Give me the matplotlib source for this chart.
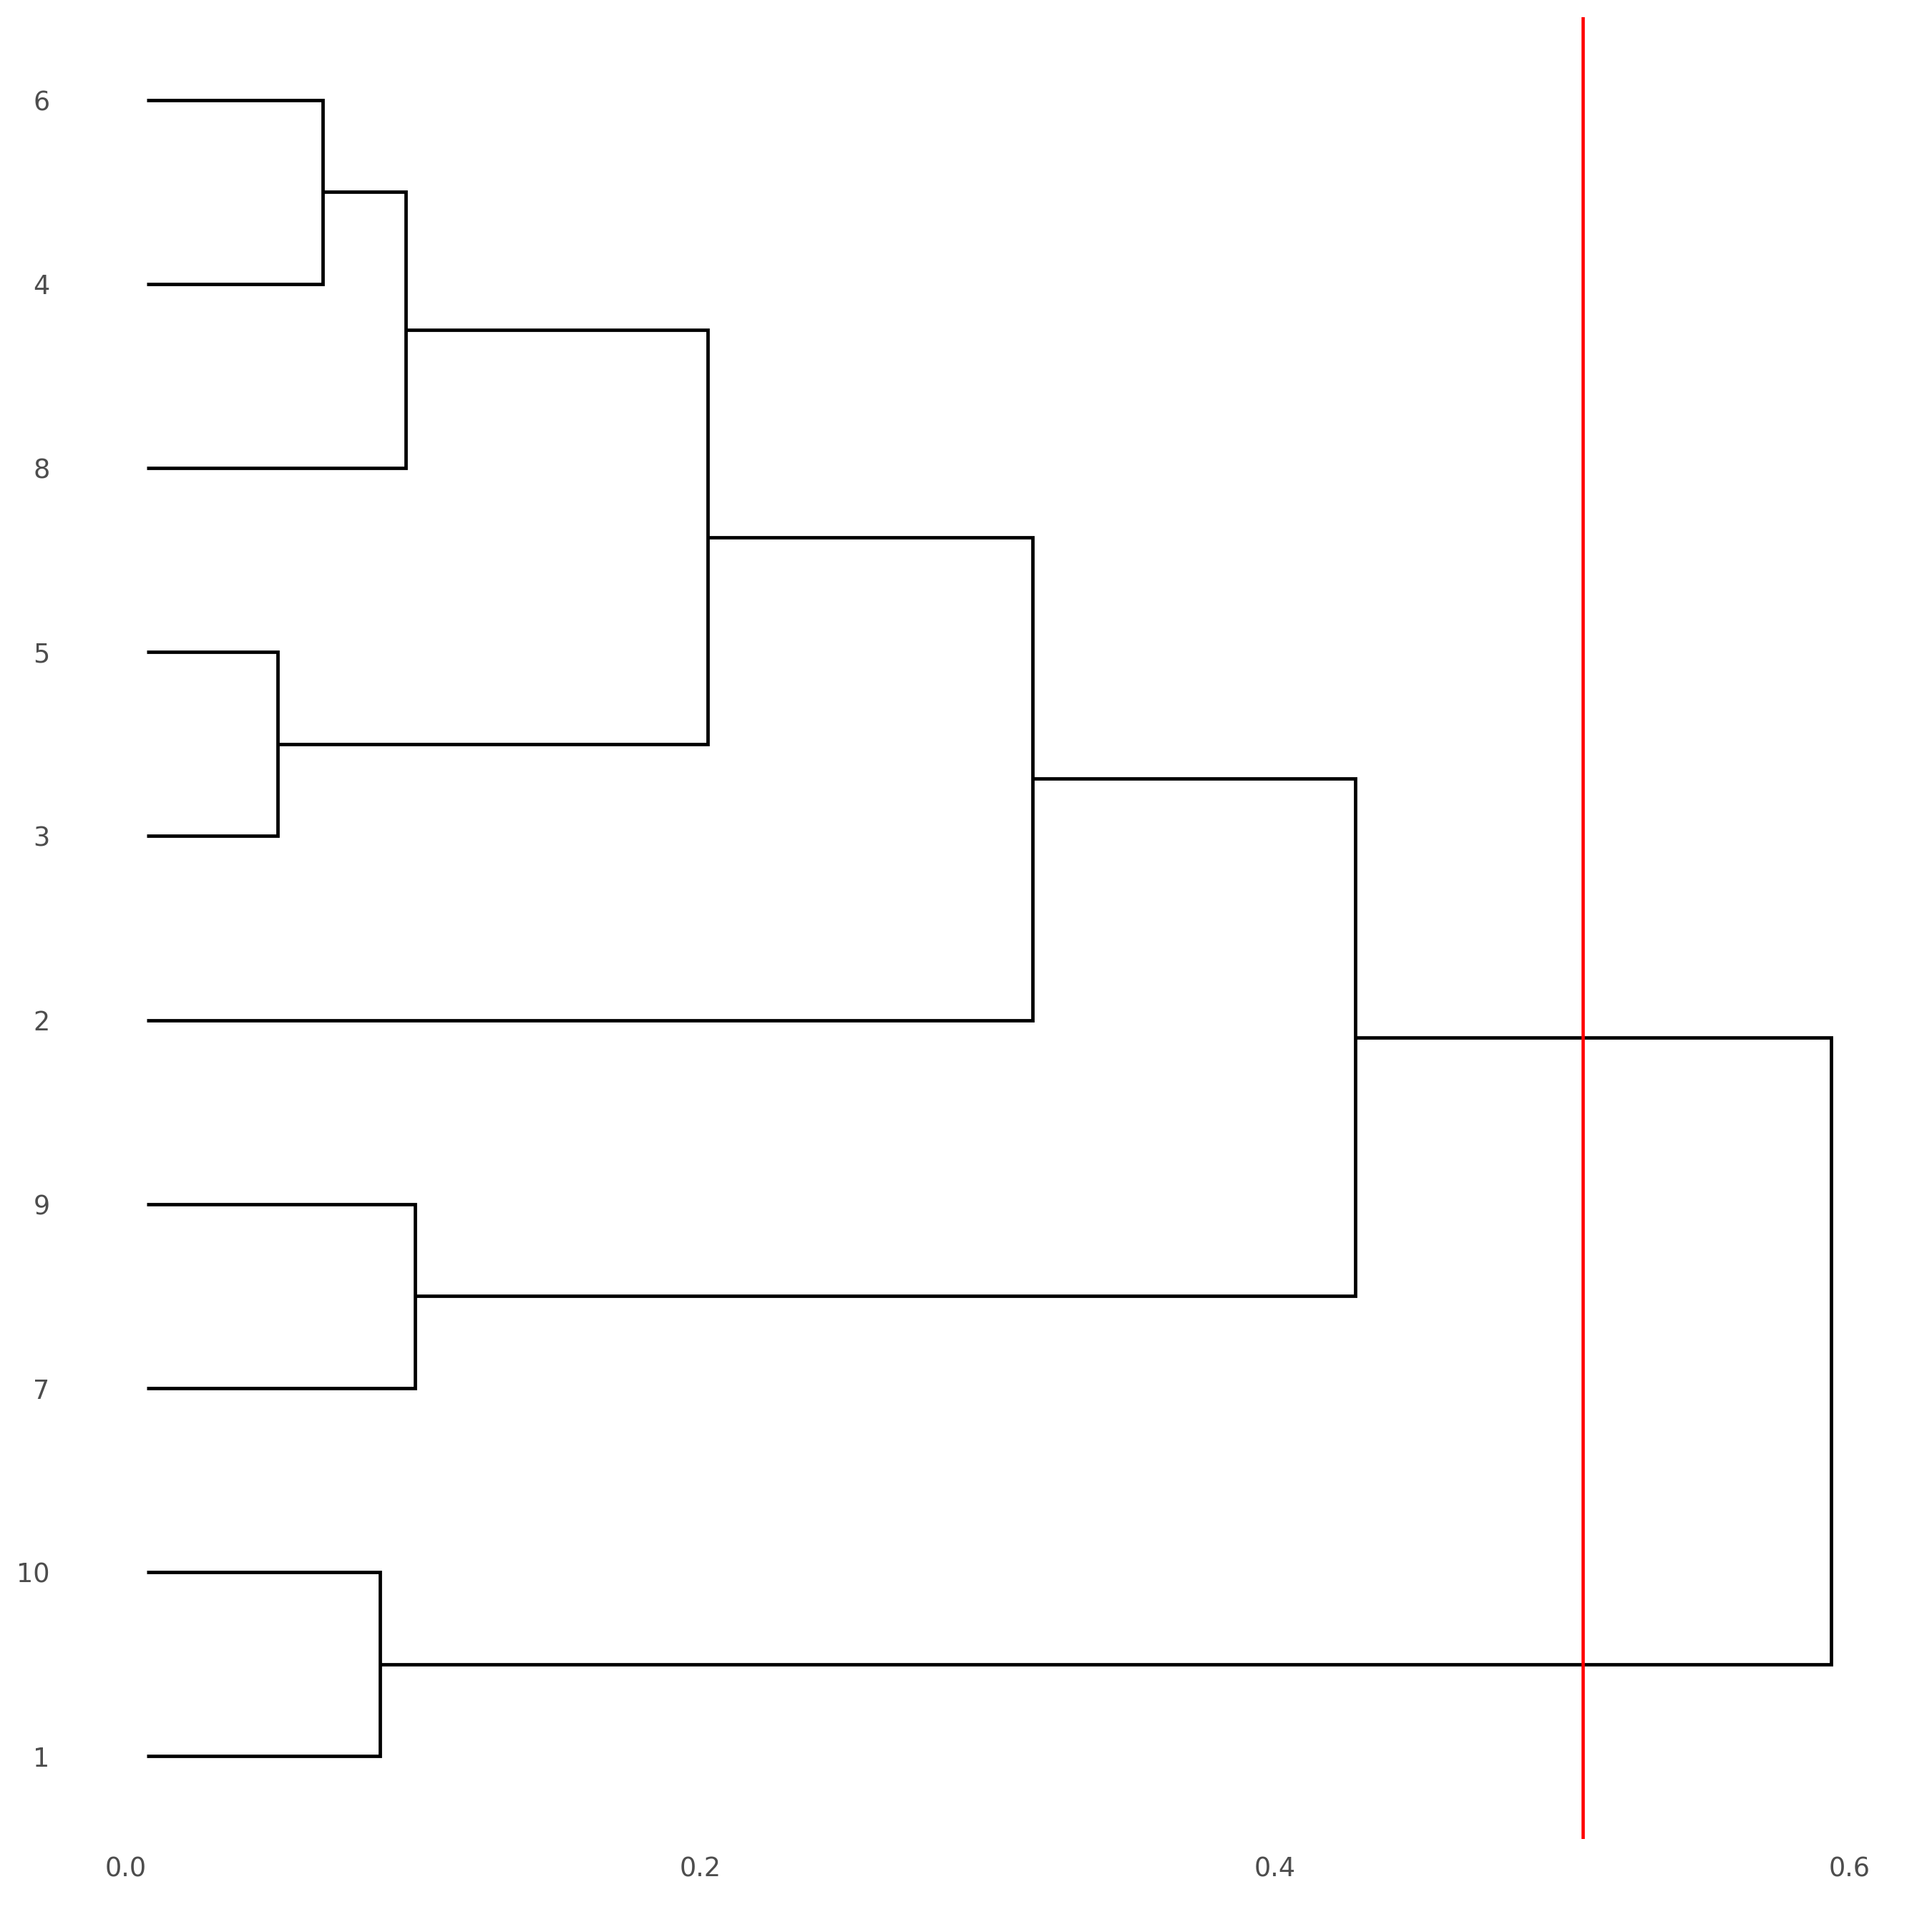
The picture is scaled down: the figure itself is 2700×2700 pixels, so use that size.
import matplotlib
matplotlib.use("Agg")
import matplotlib.pyplot as plt

# Leaves, bottom to top
leaf_labels = ['1', '10', '7', '9', '2', '3', '5', '8', '4', '6']

# Merges: (new cluster, left child, right child, height)
merge_names = ['A', 'B', 'C', 'D', 'E', 'F', 'G', 'H', 'I']
merge_left = ['6', '5', '10', 'A', '9', 'D', 'F', 'G', 'H']
merge_right = ['4', '3', '1', '8', '7', 'B', '2', 'E', 'C']
merge_height = [0.0613, 0.0455, 0.0811, 0.0901, 0.0935, 0.1952, 0.3085, 0.4209, 0.5866]

cut_height = 0.5
x_ticks = [0.0, 0.2, 0.4, 0.6]
x_tick_labels = ['0.0', '0.2', '0.4', '0.6']

fig = plt.figure(figsize=(9, 9), dpi=300)
ax = fig.add_axes([0.0324, 0.0481, 0.9591, 0.943])

ypos = {lab: i + 1 for i, lab in enumerate(leaf_labels)}
hgt = {lab: 0.0 for lab in leaf_labels}
for name, l, r, h in zip(merge_names, merge_left, merge_right, merge_height):
    ax.plot([hgt[l], h, h, hgt[r]], [ypos[l], ypos[l], ypos[r], ypos[r]],
            color='black', lw=1.15, solid_joinstyle='miter', solid_capstyle='butt')
    ypos[name] = (ypos[l] + ypos[r]) / 2
    hgt[name] = h

ax.axvline(cut_height, color='#FF0000', lw=1.1)

ax.set_xlim(-0.0293, 0.6159)
ax.set_ylim(0.55, 10.45)
ax.set_xticks(x_ticks)
ax.set_xticklabels(x_tick_labels, ha='right')
ax.set_yticks(range(1, len(leaf_labels) + 1))
ax.set_yticklabels(leaf_labels)
ax.tick_params(axis='both', length=0, labelsize=8.8, labelcolor='#4D4D4D')
ax.tick_params(axis='x', pad=5.5)
ax.tick_params(axis='y', pad=4.3)
for s in ax.spines.values():
    s.set_visible(False)
ax.grid(False)

fig.savefig('out.png', dpi=300, facecolor='white')
